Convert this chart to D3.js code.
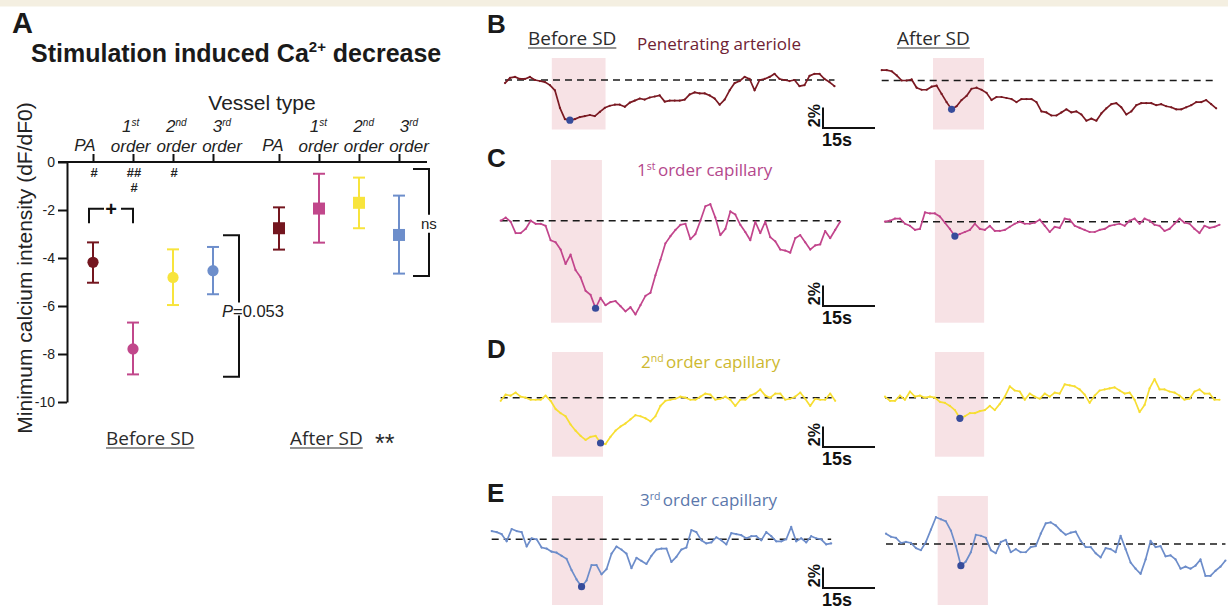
<!DOCTYPE html>
<html><head><meta charset="utf-8">
<script src="https://cdn.jsdelivr.net/npm/d3@7"></script>
<style>body{margin:0;background:#fff}svg{display:block}</style>
</head><body>
<svg id="c" width="1228" height="609"></svg>
<script>
// ================= DATA =================
// Panel A: minimum calcium intensity (dF/dF0) by vessel type
const vesselKeys = ["PA", "1", "2", "3"];
const vesselLabels = [["PA"], ["1", "st", "order"], ["2", "nd", "order"], ["3", "rd", "order"]];
const vesselColors = ["#74161f", "#c1478b", "#f8e43c", "#6d8ecb"];
const beforeMean = [-4.18, -7.79, -4.81, -4.53];
const beforeHi   = [-3.35, -6.69, -3.64, -3.54];
const beforeLo   = [-5.03, -8.85, -5.96, -5.51];
const afterMean  = [-2.76, -1.94, -1.70, -3.04];
const afterHi    = [-1.89, -0.49, -0.65, -1.40];
const afterLo    = [-3.65, -3.36, -2.76, -4.65];
const yTicks = [0, -2, -4, -6, -8, -10];
const hashMarks = [["#"], ["##", "#"], ["#"], []];

// Panels B-E: example traces, % change vs baseline, sampled every 1.44 s
const sampleStep = 1.44;
const bBefore = [-0.3,0.2,0.3,0.1,0.1,0.3,0,-0.1,-0.2,-0.5,-1.0,-2.7,-3.8,-3.9,-3.8,-3.6,-3.5,-3.4,-3.5,-3.1,-2.7,-2.5,-2.4,-2.4,-2.6,-2.2,-2.0,-1.8,-1.9,-1.7,-1.6,-1.5,-2.1,-2.0,-2.0,-2.0,-1.9,-1.4,-1.2,-1.3,-1.3,-1.5,-1.8,-2.4,-1.9,-1.0,-0.3,-0.1,0.3,0.1,-1.0,0,0.1,0.3,0.6,0.1,0,-0.1,0,-0.6,-0.5,0.4,0.6,0.6,0.1,-0.2,-0.6];
const bAfter = [1.0,1.0,0.9,0.5,0,0,0.1,-0.7,-0.9,-0.9,-0.6,-0.5,-1.3,-2.1,-2.8,-2.5,-1.9,-1.5,-0.8,-0.7,-0.9,-1.2,-1.9,-1.6,-1.6,-1.7,-1.8,-2.1,-1.8,-1.8,-1.8,-2.1,-3.0,-3.1,-3.4,-3.4,-3.1,-2.8,-3.1,-3.0,-3.3,-3.9,-3.7,-3.9,-3.2,-2.7,-2.3,-2.2,-2.6,-3.3,-3.0,-2.4,-2.2,-2.2,-2.2,-2.4,-2.3,-2.5,-2.6,-2.8,-2.8,-2.6,-2.4,-2.1,-2.1,-1.9,-2.3,-2.7];
const cBefore = [0,0.3,-0.1,-1.2,-1.2,-0.8,0,-0.3,-0.3,-0.5,-1.9,-2.1,-2.8,-4.2,-3.3,-4.8,-5.5,-6.8,-7.2,-8.5,-7.5,-8.2,-7.9,-7.8,-8.3,-8.8,-8.4,-9.1,-8.2,-7.3,-7.0,-5.3,-3.8,-2.2,-1.5,-0.9,-0.4,-0.3,-1.8,-1.3,0,1.4,1.6,0.3,-1.4,-0.8,0.9,0.6,-0.4,-1.1,-1.9,-0.1,-1.2,-0.1,-1.6,-2.0,-2.8,-2.9,-3.1,-1.7,-1.4,-2.1,-2.8,-2.4,-2.3,-1.0,-1.7,-0.9,-0.1];
const cAfter = [0,0.1,0.3,0.3,-0.2,-0.4,-0.8,-0.7,0.9,0.8,0.8,0.5,-0.1,-0.7,-1.4,-1.2,-1.0,-0.8,-0.2,-0.7,-0.8,-0.4,-0.9,-0.9,-0.8,-0.5,-0.2,0,-0.2,-0.2,-0.1,0.2,-0.4,-1.0,-0.5,-0.6,0.3,0.2,-0.4,-0.6,-0.8,-1.0,-1.0,-0.8,-0.7,-0.4,-0.3,-0.2,-0.4,0.1,0.3,-0.2,0.3,0.1,-0.3,-0.4,-0.9,-0.7,-0.2,0.3,-0.1,-0.2,-0.7,-1.1,-0.4,-0.6,-0.5,-0.3];
const dBefore = [-0.3,0.3,0.2,0.5,0.1,0,-0.2,-0.2,-0.2,0.2,-0.3,-1.1,-1.5,-1.8,-2.6,-3.2,-3.7,-4.1,-3.8,-3.7,-4.4,-4.5,-3.8,-3.2,-2.8,-2.5,-2.1,-1.7,-1.8,-2.0,-2.3,-1.8,-0.8,-0.3,-0.2,-0.1,0.1,0,-0.2,-0.2,0.1,0.4,0.3,-0.2,-0.1,0.1,-0.2,-0.8,-0.2,-0.2,0.2,0.4,0.8,0.2,0,0.4,0.4,-0.2,-0.1,0.1,0.5,-0.1,-0.8,-0.1,-0.2,-0.2,0.4,-0.3];
const dAfter = [0.1,-0.3,-0.3,0.2,-0.2,0.6,0.1,0.2,0,0.1,0,-0.4,-0.5,-0.8,-1.2,-2.0,-1.8,-1.5,-1.5,-1.3,-1.2,-0.8,-1.2,-0.6,0.1,1.1,0.7,0.6,-0.2,0.4,0.1,-0.1,0.4,0.1,0.5,0.4,1.3,1.2,1.1,0.8,0.3,-0.5,0.2,0.7,0.8,0.9,1.0,0.7,0.4,0.5,-0.2,-1.4,-0.7,0.9,1.8,0.8,0.8,0.6,0.5,0.2,-0.2,-0.1,0.6,0.8,0.4,0.4,-0.2,-0.2];
const eBefore = [0.8,0.7,0.5,-0.2,1.0,0.8,0.7,-0.7,0.1,0,-0.8,-0.9,-1.2,-1.3,-1.6,-1.9,-3.0,-3.9,-4.6,-4.0,-2.5,-2.5,-3.4,-2.9,-1.4,-0.7,-1.0,-1.4,-2.8,-1.8,-2.1,-2.4,-1.6,-1.0,-0.9,-0.9,-2.2,-1.7,-1.0,-0.8,0.9,0.7,-0.1,-0.4,-0.3,0.2,-0.1,-0.5,0.6,0.5,0.4,0.1,0.3,0.3,-0.1,0.7,0.3,-0.2,-0.2,0,1.2,-0.2,0.1,-0.3,0.3,0.1,0,-0.5,-0.4];
const eAfter = [1.0,0.7,0.6,0.1,0.2,0.1,-0.4,-0.6,0.2,1.4,2.6,2.4,2.2,1.3,-0.2,-2.1,-1.7,-0.8,0.9,0.8,0.6,-0.6,-0.9,0.2,0.4,-0.8,-0.5,-0.8,-0.8,-0.3,-0.2,1.0,2.0,2.1,1.8,1.3,0.9,1.1,1.2,0.3,-0.3,-0.3,-0.9,-1.3,-0.4,-0.5,-0.8,0.8,-0.5,-1.8,-2.4,-2.9,-1.5,0.3,-0.3,-0.2,-1.2,-1.1,-1.5,-2.4,-2.2,-2.4,-2.1,-1.5,-3.1,-3.1,-2.6,-2.2,-1.6];
// stimulation windows (s from trace start)
const stimB = [[13.5, 29.0], [14.8, 29.5]];
const stimC = [[14.5, 29.2], [14.4, 28.6]];
const stimD = [[14.8, 29.5], [14.4, 28.6]];
const stimE = [[17.4, 32.1], [14.9, 29.4]];
const traceTitles = [["Penetrating arteriole"], ["1", "st", " order capillary"], ["2", "nd", " order capillary"], ["3", "rd", " order capillary"]];
const scaleBarPct = 2, scaleBarSec = 15;

// ================= DRAW =================
const ARIAL = "'Liberation Sans', Arial, sans-serif";
const MYR = "'Open Sans', sans-serif";
const svg = d3.select("#c");
svg.append("rect").attr("width", 1228).attr("height", 609).attr("fill", "#fff");
svg.append("rect").attr("width", 1228).attr("height", 6.5).attr("fill", "#f4efe1");

function underlined(g, x, y, txt, size, fill) {
  const t = g.append("text").attr("x", x).attr("y", y).attr("font-family", MYR)
    .attr("font-size", size).attr("fill", fill).text(txt);
  const w = t.node().getComputedTextLength();
  g.append("line").attr("x1", x).attr("x2", x + w).attr("y1", y + 3).attr("y2", y + 3)
    .attr("stroke", fill).attr("stroke-width", 1.2);
  return w;
}

// ---------- Panel A ----------
const gA = svg.append("g");
gA.append("text").attr("x", 12).attr("y", 33).attr("font-family", ARIAL).attr("font-weight", "bold")
  .attr("font-size", 29).attr("fill", "#1a1a1a").text("A");
const ttl = gA.append("text").attr("x", 31).attr("y", 62).attr("font-family", ARIAL).attr("font-weight", "bold")
  .attr("font-size", 25).attr("fill", "#1a1a1a");
ttl.append("tspan").text("Stimulation induced Ca");
ttl.append("tspan").attr("font-size", 15).attr("dy", -10).text("2+");
ttl.append("tspan").attr("dy", 10).text(" decrease");

gA.append("text").attr("x", 262).attr("y", 110).attr("text-anchor", "middle").attr("font-family", ARIAL)
  .attr("font-size", 21).attr("fill", "#222").text("Vessel type");

const yA = d3.scaleLinear().domain([-10, 0]).range([402, 162]);
const xBefore = d3.scalePoint().domain(vesselKeys).range([93, 213]);
const xAfter = d3.scalePoint().domain(vesselKeys).range([279, 399]);
const lblBefore = d3.scalePoint().domain(vesselKeys).range([85, 222]);
const lblAfter = d3.scalePoint().domain(vesselKeys).range([273, 409]);

// y axis
const yAxis = d3.axisLeft(yA).tickValues(yTicks).tickSize(9).tickSizeOuter(0).tickPadding(3).tickFormat(d => String(d));
const ya = gA.append("g").attr("transform", "translate(67,0)").call(yAxis);
ya.select(".domain").attr("stroke", "#111").attr("stroke-width", 2);
ya.selectAll(".tick line").attr("stroke", "#111").attr("stroke-width", 2);
ya.selectAll(".tick text").attr("font-family", ARIAL).attr("font-size", 14).attr("fill", "#222");
// horizontal top line
gA.append("line").attr("x1", 58).attr("x2", 427).attr("y1", yA(0)).attr("y2", yA(0))
  .attr("stroke", "#111").attr("stroke-width", 2);
// top ticks
[xBefore, xAfter].forEach(sc => {
  const ax = gA.append("g").attr("transform", `translate(0,${yA(0)})`)
    .call(d3.axisTop(sc).tickSize(8).tickSizeOuter(0).tickFormat(""));
  ax.select(".domain").remove();
  ax.selectAll(".tick line").attr("stroke", "#111").attr("stroke-width", 2);
});
// category labels
[lblBefore, lblAfter].forEach(sc => {
  vesselKeys.forEach((k, i) => {
    const lab = vesselLabels[i];
    const cx = sc(k);
    const t = gA.append("text").attr("text-anchor", "middle").attr("font-family", ARIAL)
      .attr("font-style", "italic").attr("font-size", 17).attr("fill", "#222");
    if (lab.length === 1) {
      t.attr("x", cx).attr("y", 150.5).text(lab[0]);
    } else {
      t.attr("x", cx).attr("y", 132);
      t.append("tspan").text(lab[0]);
      t.append("tspan").attr("font-size", 10).attr("dy", -6).text(lab[1]);
      t.append("tspan").attr("x", cx).attr("dy", 25.5).text(lab[2]);
    }
  });
});
// hash marks
vesselKeys.forEach((k, i) => {
  if (!hashMarks[i].length) return;
  const t = gA.append("text").attr("x", xBefore(k) + 1).attr("y", 177).attr("text-anchor", "middle")
    .attr("font-family", ARIAL).attr("font-weight", "bold").attr("font-size", 13).attr("fill", "#222");
  hashMarks[i].forEach((h, j) => {
    t.append("tspan").attr("x", xBefore(k) + 1).attr("dy", j === 0 ? 0 : 14.6).text(h);
  });
});
// error bars + markers
function errGroup(sc, mean, hi, lo, square) {
  vesselKeys.forEach((k, i) => {
    const x = sc(k), c = vesselColors[i];
    const g = gA.append("g").attr("stroke", c).attr("stroke-width", 2);
    g.append("line").attr("x1", x).attr("x2", x).attr("y1", yA(hi[i])).attr("y2", yA(lo[i]));
    g.append("line").attr("x1", x - 6).attr("x2", x + 6).attr("y1", yA(hi[i])).attr("y2", yA(hi[i]));
    g.append("line").attr("x1", x - 6).attr("x2", x + 6).attr("y1", yA(lo[i])).attr("y2", yA(lo[i]));
    if (square) {
      gA.append("rect").attr("x", x - 6).attr("y", yA(mean[i]) - 6).attr("width", 12).attr("height", 12).attr("fill", c);
    } else {
      gA.append("circle").attr("cx", x).attr("cy", yA(mean[i])).attr("r", 5.6).attr("fill", c);
    }
  });
}
errGroup(xBefore, beforeMean, beforeHi, beforeLo, false);
errGroup(xAfter, afterMean, afterHi, afterLo, true);

// brackets
const bk = gA.append("g").attr("stroke", "#111").attr("stroke-width", 2).attr("fill", "none");
const pX1 = xBefore("PA") - 4, pX2 = xBefore("1");
bk.append("path").attr("d", `M${pX1},${yA(-2.55)}V${yA(-1.95)}H${pX1 + 15}`);
bk.append("path").attr("d", `M${pX2 - 12},${yA(-1.95)}H${pX2}V${yA(-2.55)}`);
gA.append("text").attr("x", (pX1 + pX2) / 2).attr("y", yA(-1.95) + 7).attr("text-anchor", "middle")
  .attr("font-family", ARIAL).attr("font-weight", "bold").attr("font-size", 20).attr("fill", "#111").text("+");

const qx = 239;
bk.append("path").attr("d", `M${qx - 16},${yA(-3.05)}H${qx}V${yA(-5.85)}`);
bk.append("path").attr("d", `M${qx},${yA(-6.4)}V${yA(-8.95)}H${qx - 16}`);
const pt = gA.append("text").attr("x", 222).attr("y", yA(-6.2) + 6).attr("font-family", ARIAL)
  .attr("font-size", 16.5).attr("fill", "#222");
pt.append("tspan").attr("font-style", "italic").text("P");
pt.append("tspan").text("=0.053");

const nx = 429;
bk.append("path").attr("d", `M${nx - 16},${yA(-0.29)}H${nx}V${yA(-2.2)}`);
bk.append("path").attr("d", `M${nx},${yA(-2.95)}V${yA(-4.75)}H${nx - 16}`);
gA.append("text").attr("x", 421).attr("y", yA(-2.6) + 5).attr("font-family", ARIAL)
  .attr("font-size", 15).attr("fill", "#222").text("ns");

// y label
gA.append("text").attr("transform", "translate(32,268) rotate(-90)").attr("text-anchor", "middle")
  .attr("font-family", ARIAL).attr("font-size", 21).attr("fill", "#222").text("Minimum calcium intensity (dF/dF0)");

underlined(gA, 106, 445, "Before SD", 19, "#2b2b2b");
underlined(gA, 290, 445, "After SD", 19, "#2b2b2b");
gA.append("text").attr("x", 375).attr("y", 452).attr("font-family", ARIAL).attr("font-size", 25)
  .attr("fill", "#2b2b2b").text("**");

// ---------- Panels B-E ----------
const pxPerSec = 52 / 15;
const pxPerPct = 20.6 / 2;
const rows = [
  { letter: "B", letterY: 33, title: traceTitles[0], titleX: 637, titleY: 50, titleColor: "#6f2233", color: "#7a1922",
    data: [bBefore, bAfter], stim: stimB, x0: [505, 881.7], base: [80, 80.5], rect: [58, 129.5], barBottom: 128 },
  { letter: "C", letterY: 167, title: traceTitles[1], titleX: 637, titleY: 176, titleColor: "#b4478c", color: "#c2458c",
    data: [cBefore, cAfter], stim: stimC, x0: [500.7, 885], base: [220.7, 221.7], rect: [160, 322.7], barBottom: 306 },
  { letter: "D", letterY: 358, title: traceTitles[2], titleX: 641, titleY: 368, titleColor: "#cdb82f", color: "#f7de33",
    data: [dBefore, dAfter], stim: stimD, x0: [500.7, 885], base: [397.7, 397.7], rect: [352, 456.7], barBottom: 447 },
  { letter: "E", letterY: 502, title: traceTitles[3], titleX: 640, titleY: 506, titleColor: "#5b77ab", color: "#6d8dca",
    data: [eBefore, eAfter], stim: stimE, x0: [491.7, 886], base: [539.3, 544], rect: [496, 605], barBottom: 588 }
];

const gT = svg.append("g");
underlined(gT, 528, 45, "Before SD", 19, "#2b2b2b");
underlined(gT, 897, 45, "After SD", 19, "#2b2b2b");

rows.forEach(r => {
  gT.append("text").attr("x", 487).attr("y", r.letterY).attr("font-family", ARIAL).attr("font-weight", "bold")
    .attr("font-size", 26).attr("fill", "#1a1a1a").text(r.letter);
  const tt = gT.append("text").attr("x", r.titleX).attr("y", r.titleY).attr("font-family", MYR)
    .attr("font-size", 17).attr("fill", r.titleColor);
  if (r.title.length === 1) tt.text(r.title[0]);
  else {
    tt.append("tspan").text(r.title[0]);
    tt.append("tspan").attr("font-size", 10.5).attr("dy", -6).text(r.title[1]);
    tt.append("tspan").attr("dy", 6).attr("dx", -2).text(r.title[2]);
  }
  [0, 1].forEach(s => {
    const vals = r.data[s];
    const x = d3.scaleLinear().domain([0, 15]).range([r.x0[s], r.x0[s] + 15 * pxPerSec]);
    const y = d3.scaleLinear().domain([0, 2]).range([r.base[s], r.base[s] - 2 * pxPerPct]);
    const st = r.stim[s];
    gT.append("rect").attr("x", x(st[0])).attr("y", r.rect[0]).attr("width", x(st[1]) - x(st[0]))
      .attr("height", r.rect[1] - r.rect[0]).attr("fill", "#f7e2e5");
    const tEnd = (vals.length - 1) * sampleStep;
    gT.append("line").attr("x1", x(0)).attr("x2", x(tEnd)).attr("y1", y(0)).attr("y2", y(0))
      .attr("stroke", "#1a1a1a").attr("stroke-width", 1.6).attr("stroke-dasharray", "7,5");
    const line = d3.line().x((d, i) => x(i * sampleStep)).y(d => y(d));
    gT.append("path").datum(vals).attr("d", line).attr("fill", "none").attr("stroke", r.color)
      .attr("stroke-width", 1.7).attr("stroke-linejoin", "round");
    gT.append("g").selectAll("circle").data(vals).join("circle")
      .attr("cx", (d, i) => x(i * sampleStep)).attr("cy", d => y(d)).attr("r", 1.1).attr("fill", r.color);
    // minimum within stimulation window
    let mi = -1;
    vals.forEach((v, i) => {
      const t = i * sampleStep;
      if (t >= st[0] && t <= st[1] && (mi < 0 || v < vals[mi])) mi = i;
    });
    gT.append("circle").attr("cx", x(mi * sampleStep)).attr("cy", y(vals[mi])).attr("r", 3.6).attr("fill", "#374c9b");
    if (s === 0) {
      // scale bar
      const bx = 823, by = r.barBottom;
      const h = y(0) - y(scaleBarPct);
      const w = x(scaleBarSec) - x(0);
      gT.append("path").attr("d", `M${bx},${by - h}V${by}H${bx + w}`).attr("fill", "none")
        .attr("stroke", "#111").attr("stroke-width", 2);
      gT.append("text").attr("transform", `translate(${bx - 3},${by - h / 2 - 2}) rotate(-90)`)
        .attr("text-anchor", "middle").attr("font-family", ARIAL).attr("font-weight", "bold")
        .attr("font-size", 16).attr("fill", "#111").text(scaleBarPct + "%");
      gT.append("text").attr("x", bx - 1).attr("y", by + 18).attr("font-family", ARIAL).attr("font-weight", "bold")
        .attr("font-size", 18).attr("fill", "#111").text(scaleBarSec + "s");
    }
  });
});
</script>
</body></html>
